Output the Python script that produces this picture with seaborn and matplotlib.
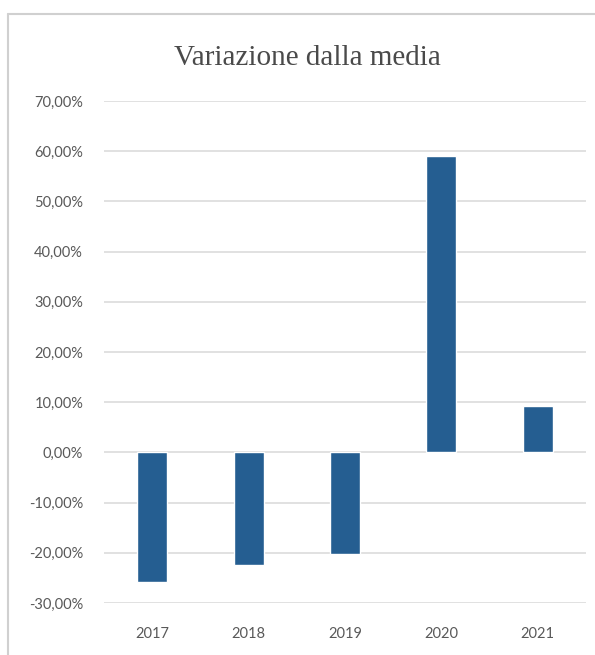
import matplotlib
matplotlib.use("Agg")
import matplotlib.pyplot as plt
from matplotlib.lines import Line2D
from matplotlib.ticker import FuncFormatter, MultipleLocator
import seaborn as sns
import pandas as pd

# Year-by-year deviation from the mean (percent)
years = ["2017", "2018", "2019", "2020", "2021"]
variation = [-25.8, -22.4, -20.2, 59.0, 9.3]
title = "Variazione dalla media"

df = pd.DataFrame({"anno": years, "variazione": variation})

sns.set_theme(style="white")
plt.rcParams["font.family"] = ["Lato", "DejaVu Sans"]

W, H = 595, 655
fig = plt.figure(figsize=(W / 100, H / 100), dpi=100)
ax = fig.add_axes([104 / W, 1 - 603 / H, (586 - 104) / W, (603 - 101) / H])

sns.barplot(data=df, x="anno", y="variazione", color="#255E91",
            width=0.31, saturation=1, ax=ax, zorder=3)

ax.set_ylim(-30, 70)
ax.set_xlim(-0.5, 4.5)
ax.yaxis.set_major_locator(MultipleLocator(10))
ax.yaxis.set_major_formatter(FuncFormatter(lambda v, _: f"{v:.2f}%".replace(".", ",")))
ax.grid(axis="y", color="#d9d9d9", linewidth=1.1, zorder=0)
ax.grid(axis="x", visible=False)
for s in ax.spines.values():
    s.set_visible(False)
ax.set_xlabel("")
ax.set_ylabel("")
ax.tick_params(axis="y", length=0, pad=15, labelsize=10.5, labelcolor="#595959")
ax.tick_params(axis="x", length=0, pad=17, labelsize=10.5, labelcolor="#595959")

fig.text(307 / W, 1 - 58 / H, title, ha="center", va="center",
         fontsize=21, color="#4a4a4a", family=["Liberation Serif", "DejaVu Serif"])

# Chart-area border (left and top edges)
fig.add_artist(Line2D([8 / W, 8 / W], [0, 1 - 14 / H], transform=fig.transFigure,
                      color="#d0d0d0", linewidth=1.5))
fig.add_artist(Line2D([8 / W, 1], [1 - 14 / H, 1 - 14 / H], transform=fig.transFigure,
                      color="#d0d0d0", linewidth=1.5))

fig.savefig("out.png", dpi=100, facecolor="white")
